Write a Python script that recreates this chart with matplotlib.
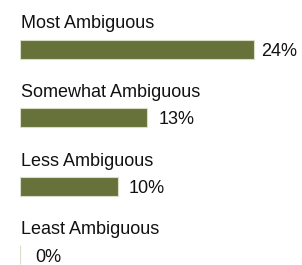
import matplotlib
matplotlib.use('Agg')
from matplotlib import pyplot as plt

categories = ['Most Ambiguous', 'Somewhat Ambiguous', 'Less Ambiguous', 'Least Ambiguous']
values = [24, 13, 10, 0]
value_labels = ['24%', '13%', '10%', '0%']

plt.rcParams['font.family'] = ['Liberation Sans', 'DejaVu Sans']

W, H = 302, 265
fig = plt.figure(figsize=(W / 100, H / 100), dpi=100)

# axes start at the bars' left edge, ~9.75 px per percent
left_px = 20
px_per_pct = 9.75
ax = fig.add_axes([left_px / W, 0, (W - left_px) / W, 1])
ax.set_xlim(0, (W - left_px) / px_per_pct)

# bar centres ~49 px from top, 68.5 px apart
row_px = 68.5
top_px = 49
ax.set_ylim((H - top_px) / row_px, -top_px / row_px)

pos = list(range(len(values)))
ax.barh(pos, values, height=19 / row_px, color='#66723A',
        edgecolor='#D9DCC6', linewidth=0.8)

gap_px = [7, 12, 11, 15]
for i, (cat, v, lab) in enumerate(zip(categories, values, value_labels)):
    ax.text(0.1, i - 25 / row_px, cat, fontsize=13, color='#111111',
            va='center', ha='left')
    ax.annotate(lab, (v, i), xytext=(gap_px[i] * 0.72, -2.5 * 0.72),
                textcoords='offset points', fontsize=13, color='#111111',
                va='center', ha='left')

ax.axis('off')
fig.savefig('out.png', dpi=100)
